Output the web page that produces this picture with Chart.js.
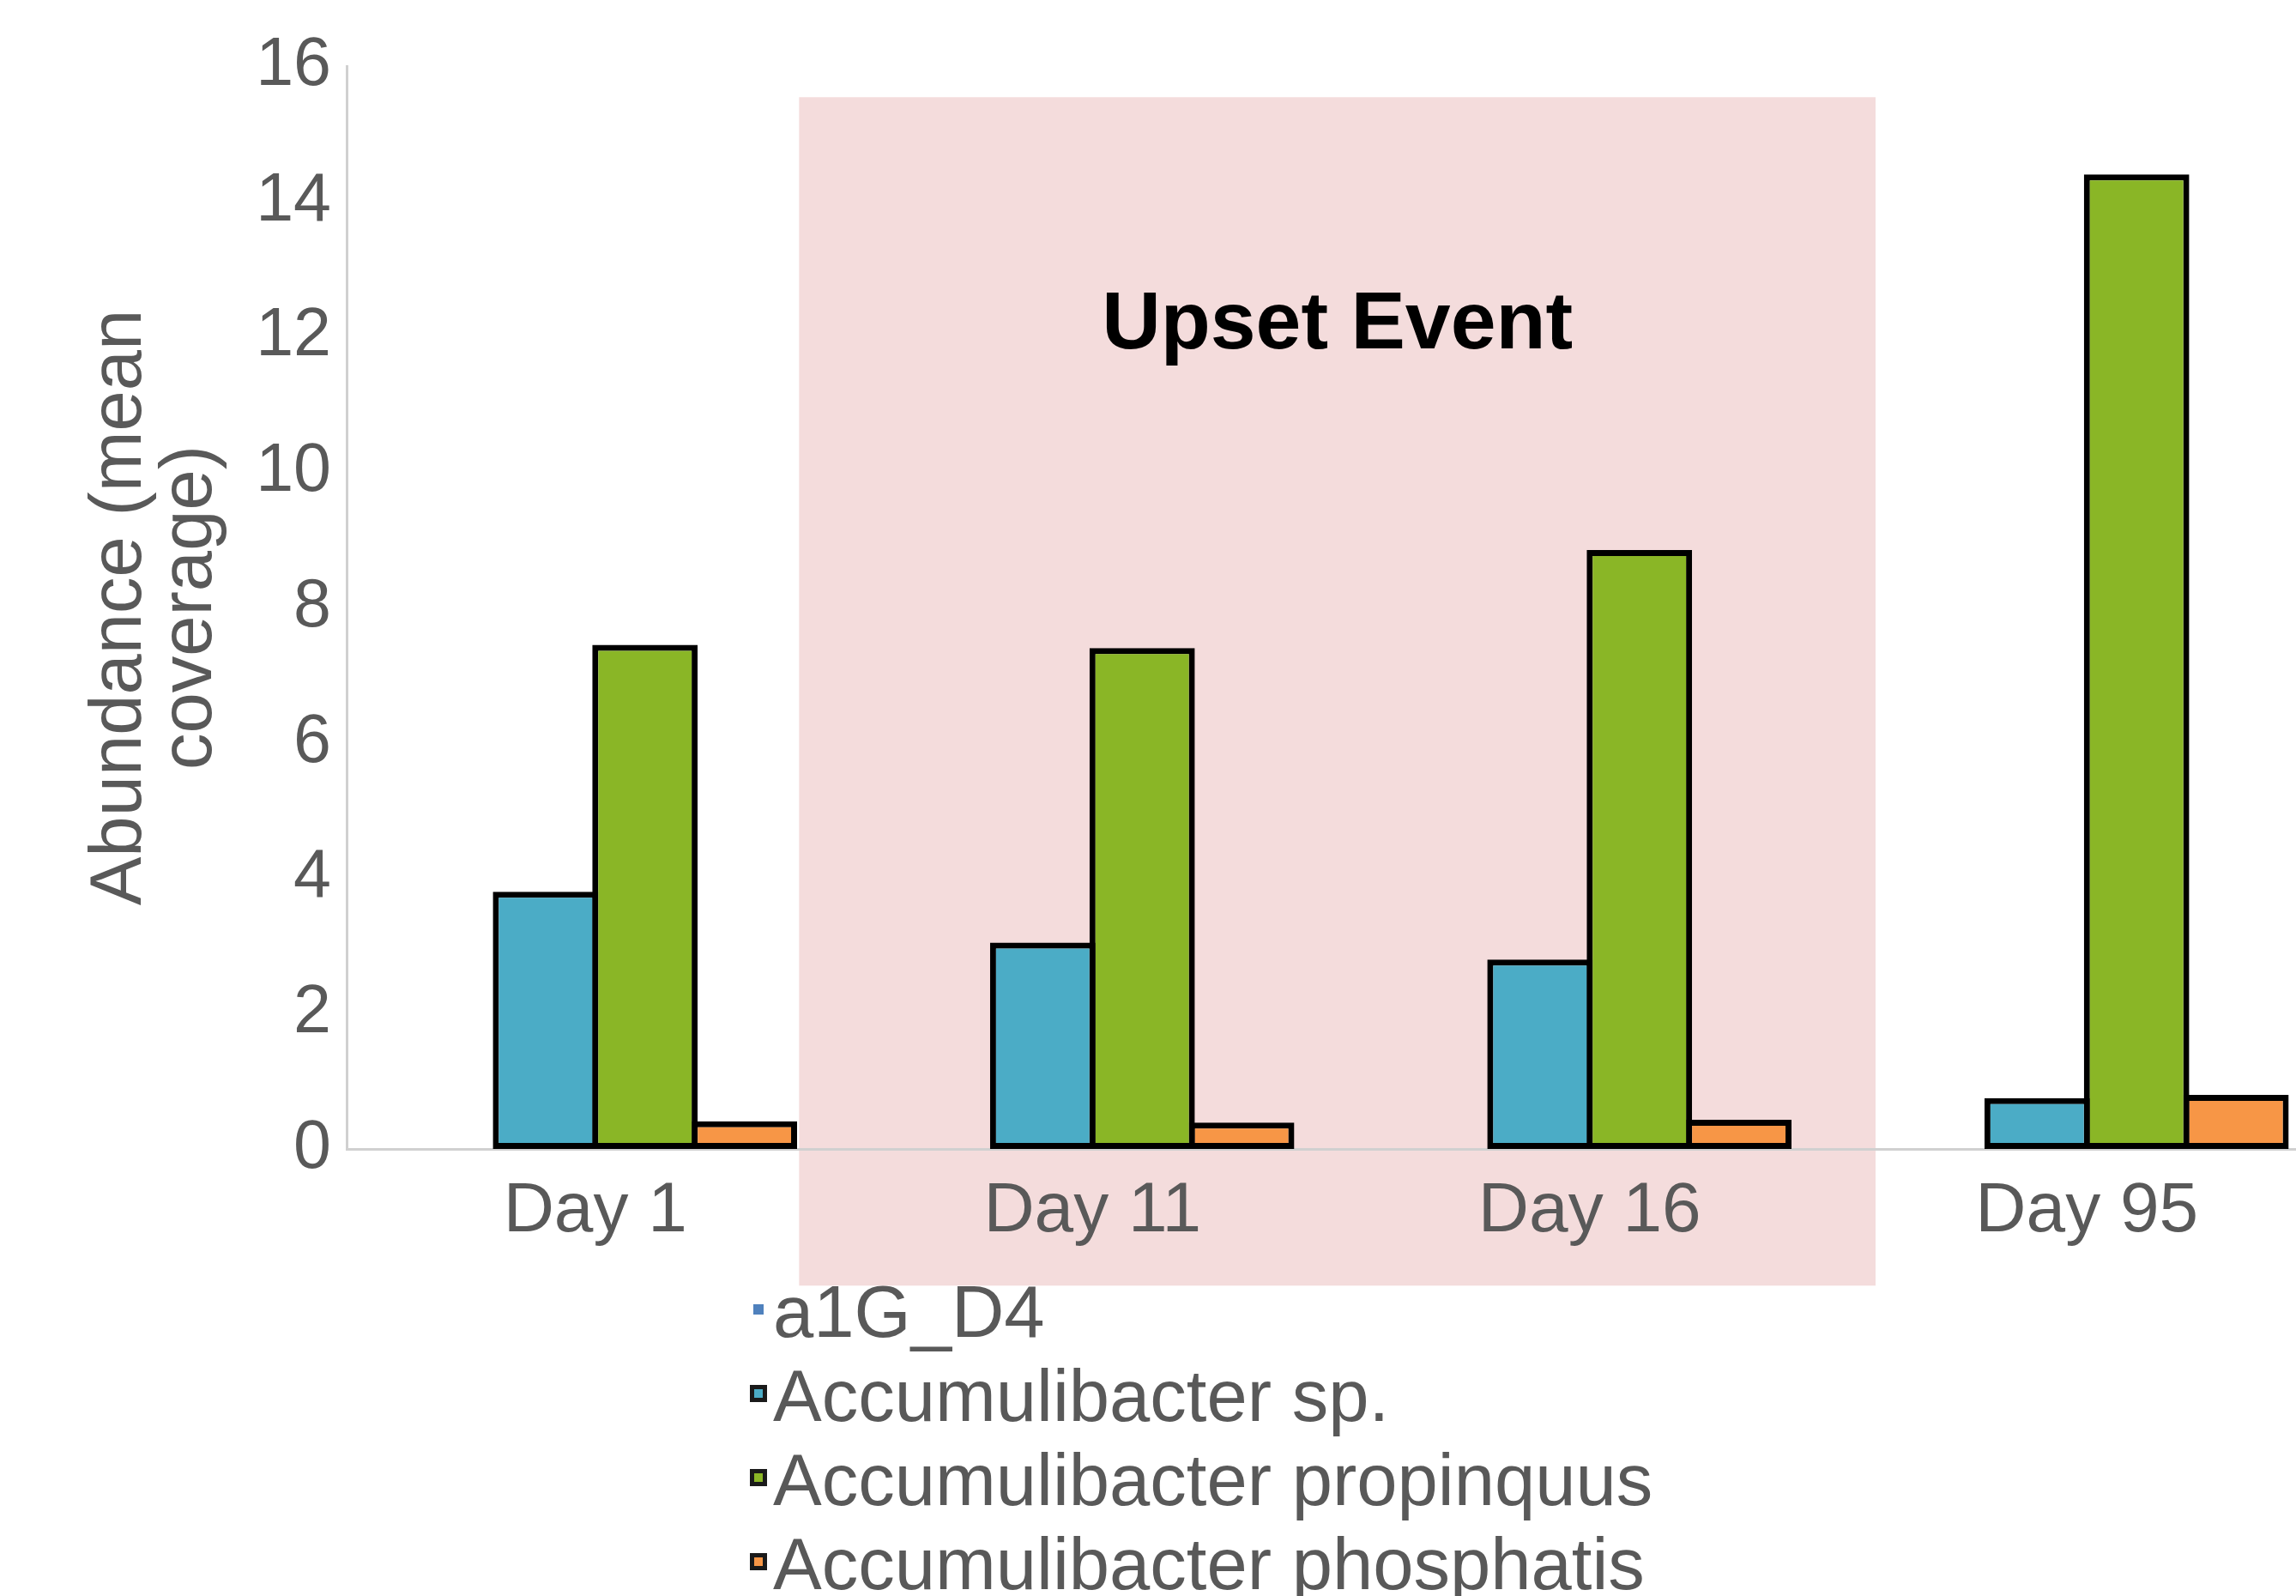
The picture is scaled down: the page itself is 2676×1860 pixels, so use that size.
<!DOCTYPE html>
<html>
<head>
<meta charset="utf-8">
<script src="https://cdn.jsdelivr.net/npm/chart.js@4"></script>
<style>
  html, body { margin: 0; padding: 0; background: #ffffff; overflow: hidden; }
  canvas { display: block; }
</style>
</head>
<body>
<canvas id="abundanceChart" width="2722" height="1860"></canvas>
<script>
// categorias e séries
const days = ["Day 1", "Day 11", "Day 16", "Day 95"];
const seriesNames = ["a1G_D4", "Accumulibacter sp.", "Accumulibacter propinquus", "Accumulibacter phosphatis"];
const a1gD4 = [0, 0, 0, 0];
const accSp = [3.8, 3.05, 2.8, 0.75];
const accPropinquus = [7.45, 7.4, 8.85, 14.4];
const accPhosphatis = [0.41, 0.39, 0.43, 0.8];
const seriesColors = ["#4f81bd", "#4bacc6", "#8ab626", "#f79646"];

// faixa do evento (em unidades de categoria / eixo y)
const upsetFrom = 0.41, upsetTo = 2.575, upsetTop = 15.54, upsetBottom = -2.02;
const upsetLabel = "Upset Event";

const FONT = "'Liberation Sans', Arial, sans-serif";
const GREY = "#595959";
const BORDER = 7;

// faixa rosa + texto atrás das barras
const upsetPlugin = {
  id: "upset",
  beforeDraw(chart) {
    const { ctx, scales: { x, y } } = chart;
    const left = x.getPixelForValue(upsetFrom);
    const right = x.getPixelForValue(upsetTo);
    const top = y.getPixelForValue(upsetTop);
    const bottom = y.getPixelForValue(upsetBottom);
    ctx.save();
    ctx.fillStyle = "#f4dcdc";
    ctx.fillRect(left, top, right - left, bottom - top);
    ctx.fillStyle = "#000000";
    ctx.font = "bold 95px " + FONT;
    ctx.textAlign = "center";
    ctx.textBaseline = "alphabetic";
    ctx.fillText(upsetLabel, (left + right) / 2, y.getPixelForValue(11.83));
    ctx.restore();
  }
};

// legenda vertical em baixo
const legendPlugin = {
  id: "stackLegend",
  afterDraw(chart) {
    const { ctx, chartArea } = chart;
    const x0 = 874;
    ctx.save();
    ctx.font = "85px " + FONT;
    ctx.textBaseline = "alphabetic";
    ctx.textAlign = "left";
    chart.data.datasets.forEach((ds, i) => {
      const base = chartArea.bottom + 219 + i * 98;
      const cy = base - 32;
      if (i === 0) {
        ctx.fillStyle = ds.backgroundColor;
        ctx.fillRect(x0 + 4, cy - 6, 12, 12);
      } else {
        ctx.fillStyle = "#1a1a1a";
        ctx.fillRect(x0, cy - 10, 20, 20);
        ctx.fillStyle = ds.backgroundColor;
        ctx.fillRect(x0 + 5, cy - 5, 10, 10);
      }
      ctx.fillStyle = GREY;
      ctx.fillText(ds.label, x0 + 27, base);
    });
    ctx.restore();
  }
};

const values = [a1gD4, accSp, accPropinquus, accPhosphatis];

new Chart(document.getElementById("abundanceChart"), {
  type: "bar",
  data: {
    labels: days,
    datasets: seriesNames.map((name, i) => ({
      label: name,
      data: values[i],
      backgroundColor: seriesColors[i],
      borderColor: "#000000",
      borderWidth: i === 0 ? 0 : BORDER,
      borderSkipped: false,
      categoryPercentage: 0.8,
      barPercentage: 1.06
    }))
  },
  options: {
    responsive: false,
    animation: false,
    layout: { padding: { top: 77, right: 0, left: 0, bottom: 0 } },
    plugins: {
      legend: { display: false },
      tooltip: { enabled: false }
    },
    scales: {
      x: {
        grid: { display: false },
        border: { display: true, color: "#d0d0d0", width: 3 },
        ticks: { color: GREY, font: { family: FONT, size: 82 }, padding: 16 },
        afterFit(scale) { scale.height = 521; }
      },
      y: {
        min: 0,
        max: 16,
        grid: { display: false },
        border: { display: true, color: "#d0d0d0", width: 3 },
        ticks: { stepSize: 2, color: GREY, font: { family: FONT, size: 79 }, padding: 10 },
        title: {
          display: true,
          text: ["Abundance (mean", "coverage)"],
          color: GREY,
          font: { family: FONT, size: 85, lineHeight: 0.97 },
          padding: { top: 99, bottom: 0 }
        },
        afterFit(scale) { scale.width = 404; }
      }
    }
  },
  plugins: [upsetPlugin, legendPlugin]
});
</script>
</body>
</html>
